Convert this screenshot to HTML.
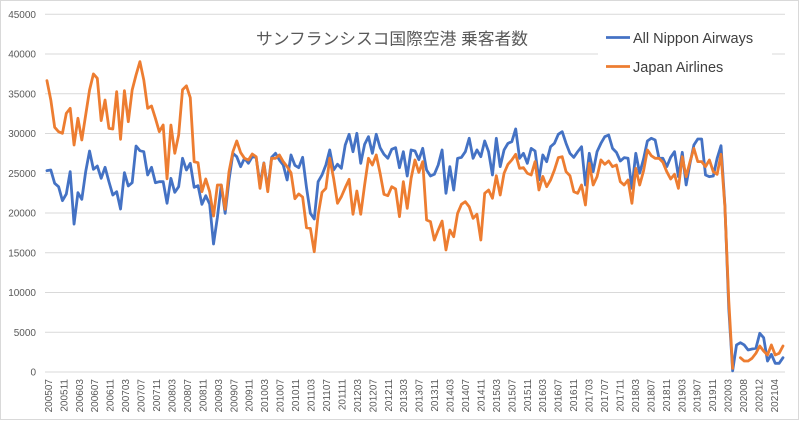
<!DOCTYPE html>
<html><head><meta charset="utf-8"><style>
html,body{margin:0;padding:0;background:#fff;width:800px;height:422px;overflow:hidden}
svg{display:block}
</style></head><body>
<svg width="800" height="422" viewBox="0 0 800 422" xmlns="http://www.w3.org/2000/svg">
<rect x="0" y="0" width="800" height="422" fill="#fff"/>
<rect x="0.5" y="0.5" width="798" height="419" fill="none" stroke="#d9d9d9" stroke-width="1"/>
<g stroke="#d9d9d9" stroke-width="1">
<line x1="45" x2="785" y1="14.25" y2="14.25"/>
<line x1="45" x2="785" y1="54" y2="54"/>
<line x1="45" x2="785" y1="93.75" y2="93.75"/>
<line x1="45" x2="785" y1="133.5" y2="133.5"/>
<line x1="45" x2="785" y1="173.25" y2="173.25"/>
<line x1="45" x2="785" y1="213" y2="213"/>
<line x1="45" x2="785" y1="252.75" y2="252.75"/>
<line x1="45" x2="785" y1="292.5" y2="292.5"/>
<line x1="45" x2="785" y1="332.25" y2="332.25"/>
<line x1="45" x2="785" y1="372" y2="372"/>
</g>
<g font-family="Liberation Sans, sans-serif" font-size="10" fill="#595959" text-anchor="end">
<text x="36" y="17.8">45000</text>
<text x="36" y="57.6">40000</text>
<text x="36" y="97.3">35000</text>
<text x="36" y="137.1">30000</text>
<text x="36" y="176.8">25000</text>
<text x="36" y="216.6">20000</text>
<text x="36" y="256.3">15000</text>
<text x="36" y="296.1">10000</text>
<text x="36" y="335.8">5000</text>
<text x="36" y="375.6">0</text>
</g>
<g font-family="Liberation Sans, sans-serif" font-size="10" fill="#595959" text-anchor="end">
<text transform="translate(51.90 379) rotate(-90)">200507</text>
<text transform="translate(67.35 379) rotate(-90)">200511</text>
<text transform="translate(82.80 379) rotate(-90)">200603</text>
<text transform="translate(98.24 379) rotate(-90)">200607</text>
<text transform="translate(113.69 379) rotate(-90)">200611</text>
<text transform="translate(129.14 379) rotate(-90)">200703</text>
<text transform="translate(144.59 379) rotate(-90)">200707</text>
<text transform="translate(160.04 379) rotate(-90)">200711</text>
<text transform="translate(175.48 379) rotate(-90)">200803</text>
<text transform="translate(190.93 379) rotate(-90)">200807</text>
<text transform="translate(206.38 379) rotate(-90)">200811</text>
<text transform="translate(221.83 379) rotate(-90)">200903</text>
<text transform="translate(237.28 379) rotate(-90)">200907</text>
<text transform="translate(252.72 379) rotate(-90)">200911</text>
<text transform="translate(268.17 379) rotate(-90)">201003</text>
<text transform="translate(283.62 379) rotate(-90)">201007</text>
<text transform="translate(299.07 379) rotate(-90)">201011</text>
<text transform="translate(314.52 379) rotate(-90)">201103</text>
<text transform="translate(329.96 379) rotate(-90)">201107</text>
<text transform="translate(345.41 379) rotate(-90)">201111</text>
<text transform="translate(360.86 379) rotate(-90)">201203</text>
<text transform="translate(376.31 379) rotate(-90)">201207</text>
<text transform="translate(391.76 379) rotate(-90)">201211</text>
<text transform="translate(407.20 379) rotate(-90)">201303</text>
<text transform="translate(422.65 379) rotate(-90)">201307</text>
<text transform="translate(438.10 379) rotate(-90)">201311</text>
<text transform="translate(453.55 379) rotate(-90)">201403</text>
<text transform="translate(469.00 379) rotate(-90)">201407</text>
<text transform="translate(484.44 379) rotate(-90)">201411</text>
<text transform="translate(499.89 379) rotate(-90)">201503</text>
<text transform="translate(515.34 379) rotate(-90)">201507</text>
<text transform="translate(530.79 379) rotate(-90)">201511</text>
<text transform="translate(546.24 379) rotate(-90)">201603</text>
<text transform="translate(561.68 379) rotate(-90)">201607</text>
<text transform="translate(577.13 379) rotate(-90)">201611</text>
<text transform="translate(592.58 379) rotate(-90)">201703</text>
<text transform="translate(608.03 379) rotate(-90)">201707</text>
<text transform="translate(623.48 379) rotate(-90)">201711</text>
<text transform="translate(638.92 379) rotate(-90)">201803</text>
<text transform="translate(654.37 379) rotate(-90)">201807</text>
<text transform="translate(669.82 379) rotate(-90)">201811</text>
<text transform="translate(685.27 379) rotate(-90)">201903</text>
<text transform="translate(700.72 379) rotate(-90)">201907</text>
<text transform="translate(716.16 379) rotate(-90)">201911</text>
<text transform="translate(731.61 379) rotate(-90)">202003</text>
<text transform="translate(747.06 379) rotate(-90)">202008</text>
<text transform="translate(762.51 379) rotate(-90)">202012</text>
<text transform="translate(777.96 379) rotate(-90)">202104</text>
</g>
<g transform="translate(46.94 372) scale(3.874 -0.00795)" fill="none" stroke-linejoin="round" stroke-linecap="round">
<polyline vector-effect="non-scaling-stroke" stroke="#4472C4" stroke-width="2.8" points="0,25325 1,25410 2,23730 3,23310 4,21550 5,22390 6,25200 7,18600 8,22560 9,21720 10,25200 11,27800 12,25500 13,25910 14,24360 15,25750 16,23940 17,22260 18,22680 19,20500 20,25075 21,23400 22,23810 23,28430 24,27840 25,27710 26,24780 27,25750 28,23810 29,23940 30,23940 31,21220 32,24360 33,22600 34,23310 35,26880 36,25410 37,26250 38,23230 39,23440 40,21090 41,22180 42,21130 43,16100 44,19460 45,23520 46,19960 47,24150 48,27510 49,27080 50,25830 51,26880 52,26250 53,27080 54,27000 55,23600 56,26300 57,23000 58,27000 59,27510 60,26670 61,26040 62,24150 63,27300 64,26000 65,25700 66,27000 67,23200 68,19960 69,19250 70,23940 71,24780 72,26040 73,27930 74,25410 75,26130 76,25620 77,28550 78,29900 79,27710 80,30020 81,26250 82,28630 83,29600 84,27510 85,29900 86,28220 87,27380 88,26880 89,28010 90,28220 91,25700 92,27710 93,24650 94,27930 95,27800 96,26700 97,28130 98,25410 99,24650 100,24870 101,26040 102,27930 103,22480 104,25830 105,22890 106,26880 107,27000 108,27710 109,29400 110,26880 111,27930 112,27080 113,29060 114,27710 115,24780 116,29400 117,25830 118,27930 119,28760 120,28970 121,30570 122,26880 123,27510 124,26250 125,28130 126,27800 127,24150 128,27300 129,26460 130,28340 131,28760 132,29900 133,30230 134,28760 135,27510 136,27000 137,27710 138,28340 139,23520 140,27510 141,25200 142,27710 143,28760 144,29600 145,29810 146,28130 147,27630 148,26540 149,26960 150,26880 151,23100 152,27510 153,25000 154,26790 155,29060 156,29400 157,29180 158,26880 159,26880 160,25830 161,27000 162,27710 163,24570 164,27630 165,23520 166,26250 167,28550 168,29310 169,29310 170,24780 171,24570 172,24650 173,26880 174,28470 175,21000 176,8000 177,150 178,3400 179,3690 180,3400 181,2770 182,2890 183,2980 184,4860 185,4320 186,1380 187,2220 188,1090 189,1090 190,1800"/>
<polyline vector-effect="non-scaling-stroke" stroke="#ED7D31" stroke-width="2.8" points="0,36650 1,34215 2,30780 3,30230 4,30020 5,32540 6,33170 7,28550 8,31910 9,29180 10,32330 11,35470 12,37490 13,36940 14,31620 15,34210 16,30650 17,30570 18,35260 19,29270 20,35390 21,31490 22,35470 23,37360 24,39040 25,36730 26,33170 27,33460 28,31910 29,30230 30,31070 31,24300 32,31070 33,27510 34,29810 35,35500 36,36000 37,34500 38,26450 39,26330 40,22680 41,24280 42,22680 43,19620 44,23520 45,23520 46,20470 47,25200 48,27710 49,29060 50,27600 51,26880 52,26670 53,27420 54,27080 55,23100 56,26250 57,22680 58,26880 59,26880 60,27300 61,26460 62,25830 63,25070 64,21800 65,22400 66,22000 67,18150 68,18070 69,15130 70,19750 71,22600 72,23100 73,26880 74,24360 75,21220 76,22060 77,23190 78,24240 79,19840 80,22770 81,19840 82,23520 83,26880 84,26040 85,27300 86,25000 87,22350 88,22180 89,23310 90,23020 91,19540 92,23940 93,20590 94,24360 95,26670 96,25100 97,26460 98,19120 99,18910 100,16600 101,17860 102,18990 103,15350 104,17860 105,17020 106,19960 107,21090 108,21420 109,20790 110,19330 111,19840 112,16600 113,22480 114,22890 115,21850 116,24690 117,22260 118,25000 119,26130 120,26670 121,27380 122,25620 123,25700 124,25000 125,24780 126,26460 127,22890 128,24600 129,23310 130,24150 131,25410 132,26960 133,27080 134,25200 135,24690 136,22680 137,22480 138,23520 139,21010 140,26250 141,23520 142,24570 143,26670 144,26130 145,26540 146,25830 147,26040 148,23940 149,23520 150,24150 151,21220 152,25620 153,23520 154,25280 155,27930 156,27210 157,26880 158,26880 159,26380 160,25200 161,24280 162,24870 163,23100 164,27080 165,24570 166,26460 167,28130 168,26460 169,26460 170,25830 171,26670 172,25200 173,24870 174,27380 175,20800 176,9000 177,460"/>
<polyline vector-effect="non-scaling-stroke" stroke="#ED7D31" stroke-width="2.8" points="179,1800 180,1380 181,1380 182,1720 183,2350 184,3270 185,2640 186,2140 187,3400 188,2140 189,2350 190,3270"/>
</g>
<text x="256" y="44.3" font-family="Liberation Sans, 'Noto Sans CJK JP', sans-serif" font-size="16.5" fill="#595959" textLength="272" lengthAdjust="spacingAndGlyphs">サンフランシスコ国際空港 乗客者数</text>
<rect x="598" y="22" width="174" height="60" fill="#fff"/>
<line x1="606" x2="630" y1="37.5" y2="37.5" stroke="#4472C4" stroke-width="2.8"/>
<line x1="606" x2="630" y1="66.5" y2="66.5" stroke="#ED7D31" stroke-width="2.8"/>
<g font-family="Liberation Sans, sans-serif" font-size="14.5" fill="#404040">
<text x="633" y="42.8">All Nippon Airways</text>
<text x="633" y="71.8">Japan Airlines</text>
</g>
</svg>
</body></html>
